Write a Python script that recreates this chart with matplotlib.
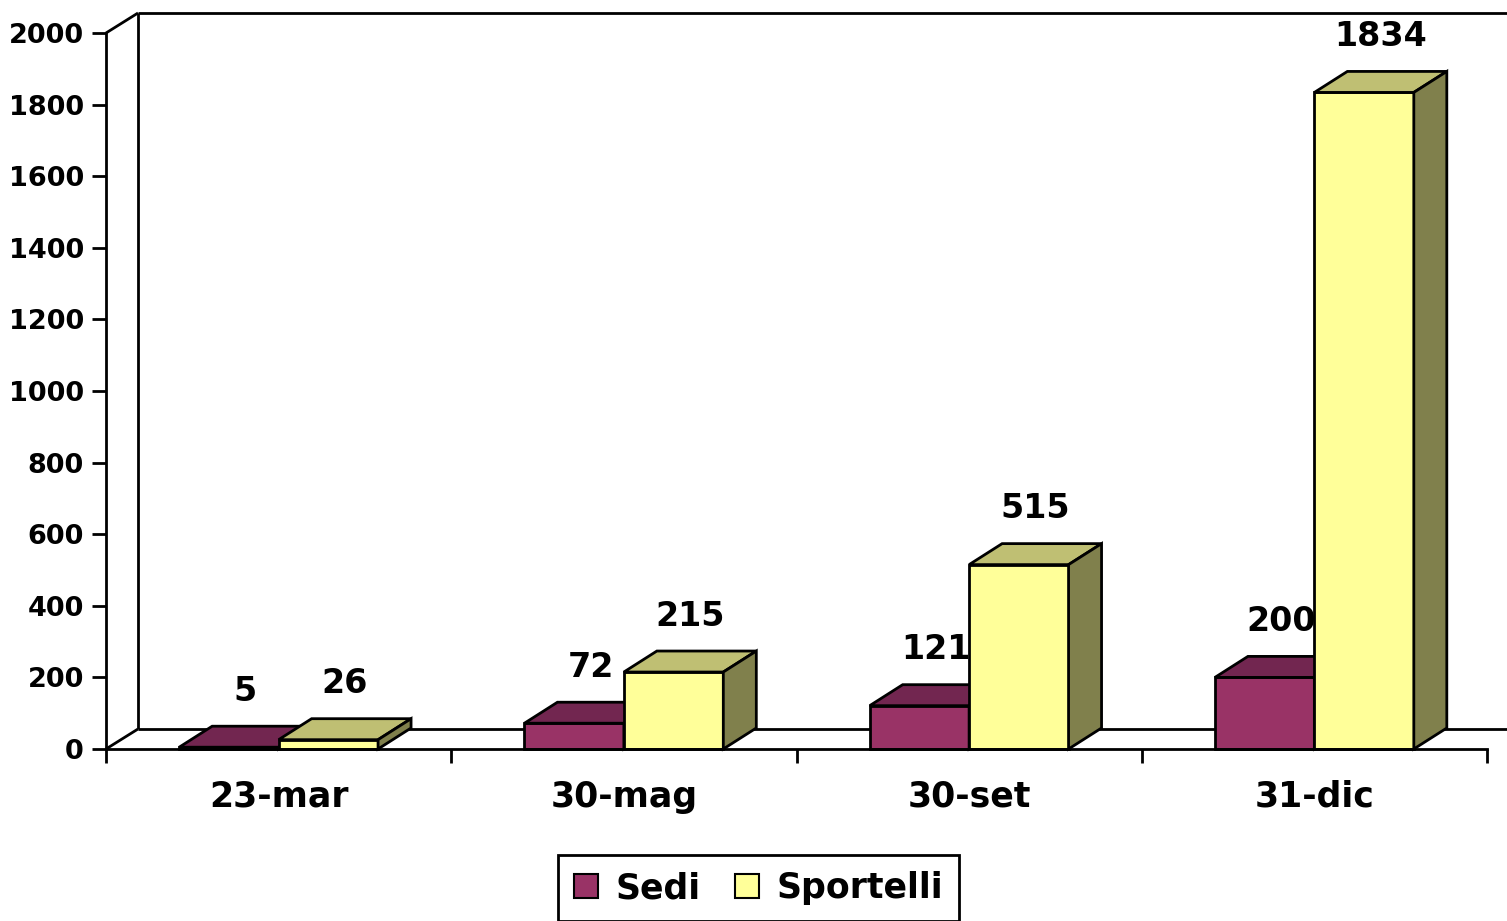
import matplotlib.pyplot as plt
from matplotlib.patches import Polygon, Patch
from matplotlib.lines import Line2D

plt.rcParams['font.family'] = ['DejaVu Sans']
plt.rcParams['font.weight'] = 'bold'

# data
categories = ['23-mar', '30-mag', '30-set', '31-dic']
sedi = [5, 72, 121, 200]
sportelli = [26, 215, 515, 1834]
yticks = [0, 200, 400, 600, 800, 1000, 1200, 1400, 1600, 1800, 2000]

# colours: front, top, side
sedi_col = ('#993366', '#722650', '#5c1e40')
sport_col = ('#FFFF99', '#BFBF73', '#80804C')

W, H = 1507, 921
fig = plt.figure(figsize=(W / 100, H / 100), dpi=100)
ax = fig.add_axes([106 / W, (H - 749) / H, (1487 - 106) / W, 716 / H])
ax.set_xlim(0, 4)
ax.set_ylim(0, 2000)

# depth offsets in data units
wall_dx, wall_dy = 32 / 345.25, 20 * 2000 / 716
bar_dx, bar_dy = 33 / 345.25, 21 * 2000 / 716
bw = 0.288

lk = dict(color='black', lw=2, clip_on=False, solid_capstyle='butt')
# back wall and floor
ax.add_line(Line2D([0, wall_dx], [2000, 2000 + wall_dy], **lk))
ax.add_line(Line2D([wall_dx, 4.2], [2000 + wall_dy, 2000 + wall_dy], **lk))
ax.add_line(Line2D([wall_dx, wall_dx], [wall_dy, 2000 + wall_dy], **lk))
ax.add_line(Line2D([0, wall_dx], [0, wall_dy], **lk))
ax.add_line(Line2D([wall_dx, 4.2], [wall_dy, wall_dy], **lk))


def bar3d(x0, h, cols):
    x1 = x0 + bw
    front = [(x0, 0), (x1, 0), (x1, h), (x0, h)]
    top = [(x0, h), (x1, h), (x1 + bar_dx, h + bar_dy), (x0 + bar_dx, h + bar_dy)]
    side = [(x1, 0), (x1 + bar_dx, bar_dy), (x1 + bar_dx, h + bar_dy), (x1, h)]
    for pts, c in ((front, cols[0]), (top, cols[1]), (side, cols[2])):
        ax.add_patch(Polygon(pts, closed=True, facecolor=c, edgecolor='black',
                             lw=2, joinstyle='miter', clip_on=False, zorder=3))


for i in range(len(categories)):
    for x0, val, cols in ((i + 0.5 - bw, sedi[i], sedi_col),
                          (i + 0.5, sportelli[i], sport_col)):
        bar3d(x0, val, cols)
        ax.annotate(str(val), (x0 + bw / 2 + bar_dx / 2, val + bar_dy),
                    xytext=(0, 25), textcoords='offset points',
                    ha='center', va='center', fontsize=24, fontweight='bold',
                    annotation_clip=False, zorder=5)

for s in ('top', 'right'):
    ax.spines[s].set_visible(False)
for s in ('left', 'bottom'):
    ax.spines[s].set_linewidth(2)
    ax.spines[s].set_zorder(4)

ax.set_yticks(yticks)
ax.tick_params(axis='y', direction='out', length=10, width=2, pad=6, labelsize=19.5)
ax.set_xticks([0, 1, 2, 3, 4])
ax.set_xticklabels([])
ax.set_xticks([i + 0.5 for i in range(len(categories))], minor=True)
ax.set_xticklabels(categories, minor=True, fontsize=25, fontweight='bold')
ax.tick_params(axis='x', which='major', direction='out', length=10, width=2)
ax.tick_params(axis='x', which='minor', length=0, pad=22)
for lab in ax.get_yticklabels():
    lab.set_fontweight('bold')

handles = [Patch(facecolor=sedi_col[0], edgecolor='black', lw=1.5, label='Sedi'),
           Patch(facecolor=sport_col[0], edgecolor='black', lw=1.5, label='Sportelli')]
leg = fig.legend(handles=handles, loc='center', bbox_to_anchor=(758.5 / W, 33 / H),
                 ncol=2, frameon=True, fancybox=False, framealpha=1, fontsize=25,
                 handlelength=0.7, handleheight=0.7, handletextpad=0.5,
                 columnspacing=1.0, borderpad=0.45, borderaxespad=0)
leg.get_frame().set_edgecolor('black')
leg.get_frame().set_linewidth(2)
for t in leg.get_texts():
    t.set_fontweight('bold')

fig.savefig('out.png', dpi=100)
